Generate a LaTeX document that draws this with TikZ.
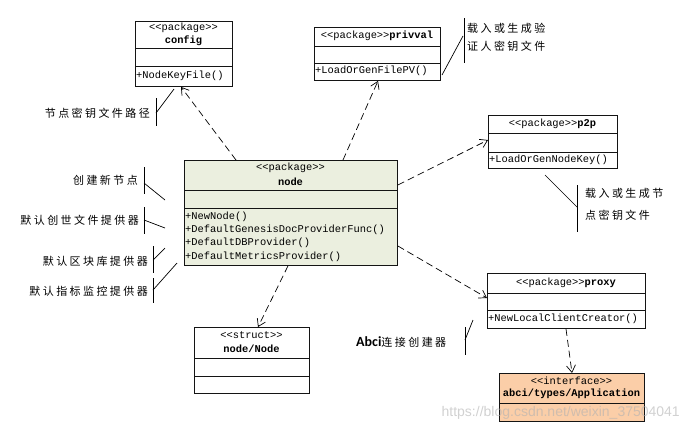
\documentclass[tikz,border=0pt]{standalone}
\usepackage{fontspec}
\setmonofont{Liberation Mono}
\newfontfamily\cjk[LetterSpace=22]{Noto Sans CJK SC}
\newfontfamily\wmfont{Liberation Sans}
\newfontfamily\abcifont{Carlito}
\usetikzlibrary{arrows.meta,calc}
\definecolor{nodefill}{RGB}{235,239,223}
\definecolor{appfill}{RGB}{251,206,168}
\definecolor{edge}{RGB}{20,20,20}
\tikzset{
  classbox/.style={draw=edge, line width=0.9pt, inner sep=0pt, rectangle, anchor=north west},
  mono/.style={font=\ttfamily\fontsize{10.4}{12}\selectfont, inner sep=0pt},
  monob/.style={font=\ttfamily\bfseries\fontsize{10.4}{12}\selectfont, inner sep=0pt},
  note/.style={font=\cjk\fontsize{11}{13}\selectfont, inner sep=0pt},
  sepline/.style={draw=edge, line width=0.9pt},
  noteline/.style={draw=black, line width=0.7pt},
  dep/.style={draw=black, line width=0.7pt, dash pattern=on 7pt off 4pt, -{Straight Barb[length=7pt,width=9pt]}}
}
\begin{document}
\begin{tikzpicture}[x=1pt,y=-1pt]
\useasboundingbox (0,0) rectangle (683,434);

% config
\node[classbox, minimum width=97pt, minimum height=65pt] (config) at (135,21) {};
\draw[sepline] (135,48) -- (232,48); \draw[sepline] (135,66) -- (232,66);
\node[mono] (configst) at (183.5,28) {<<package>>};
\node[monob] (configname) at (183.5,41) {config};
\node[mono, anchor=west] (configop) at (136,76) {+NodeKeyFile()};

% privval
\node[classbox, minimum width=126pt, minimum height=53pt] (privval) at (314,27) {};
\draw[sepline] (314,46) -- (440,46); \draw[sepline] (314,63) -- (440,63);
\node[mono] (privvalt) at (377,36) {<<package>>\textbf{privval}};
\node[mono, anchor=west] (privvalop) at (315,71) {+LoadOrGenFilePV()};

% p2p
\node[classbox, minimum width=129pt, minimum height=53pt] (p2p) at (488,115) {};
\draw[sepline] (488,133) -- (617,133); \draw[sepline] (488,152) -- (617,152);
\node[mono] (p2pt) at (552.5,124) {<<package>>\textbf{p2p}};
\node[mono, anchor=west] (p2pop) at (489,160) {+LoadOrGenNodeKey()};

% node
\node[classbox, fill=nodefill, minimum width=213pt, minimum height=105pt] (node) at (184,160) {};
\draw[sepline] (184,190) -- (397,190); \draw[sepline] (184,208) -- (397,208);
\node[mono] (nodest) at (290.5,168) {<<package>>};
\node[monob] (nodename) at (290.5,182) {node};
\node[mono, anchor=west] (nodeop1) at (185,217) {+NewNode()};
\node[mono, anchor=west] (nodeop2) at (185,230) {+DefaultGenesisDocProviderFunc()};
\node[mono, anchor=west] (nodeop3) at (185,243) {+DefaultDBProvider()};
\node[mono, anchor=west] (nodeop4) at (185,257) {+DefaultMetricsProvider()};

% proxy
\node[classbox, minimum width=158pt, minimum height=55pt] (proxy) at (487,273) {};
\draw[sepline] (487,293) -- (645,293); \draw[sepline] (487,310) -- (645,310);
\node[mono] (proxyt) at (566,283) {<<package>>\textbf{proxy}};
\node[mono, anchor=west] (proxyop) at (488,319) {+NewLocalClientCreator()};

% node/Node
\node[classbox, minimum width=115pt, minimum height=66pt] (nn) at (194,327) {};
\draw[sepline] (194,358) -- (309,358); \draw[sepline] (194,376) -- (309,376);
\node[mono] (nnst) at (251.5,335) {<<struct>>};
\node[monob] (nnname) at (251.5,349) {node/Node};

% Application
\node[classbox, fill=appfill, minimum width=145pt, minimum height=48pt] (app) at (499,373) {};
\draw[sepline] (499,403) -- (644,403);
\node[mono] (appst) at (571.5,381) {<<interface>>};
\node[monob] (appname) at (571.5,394) {abci/types/Application};

% dependencies
\draw[dep] ($(node.north west)+(52,0)$) -- ($(config.south west)+(46,0)$);
\draw[dep] ($(node.north west)+(159,0)$) -- ($(privval.south west)+(64,0)$);
\draw[dep] ($(node.north east)+(0,25)$) -- ($(p2p.north west)+(0,25)$);
\draw[dep] ($(node.north east)+(0,86)$) -- ($(proxy.north west)+(0,25)$);
\draw[dep] ($(node.south west)+(104,0)$) -- ($(nn.north west)+(64,0)$);
\draw[dep] ($(proxy.south west)+(79,0)$) -- ($(app.north west)+(73,0)$);

% notes
\node[note, anchor=north west, align=left, font=\cjk\fontsize{11}{18}\selectfont] (privvalnote) at (467,23) {载入或生成验\\证人密钥文件};
\draw[noteline] (464,18) -- (464,63); \draw[noteline] (442,75) -- (463,36);

\node[note, anchor=east] (confignote) at (150,113) {节点密钥文件路径};
\draw[noteline] (156,98) -- (156,126); \draw[noteline] (156,113) -- (174,89);

\node[note, anchor=north west, align=left, font=\cjk\fontsize{11}{22}\selectfont] (p2pnote) at (585,188) {载入或生成节\\点密钥文件};
\draw[noteline] (545,175) -- (577,207); \draw[noteline] (577,185) -- (577,232);

\node[note, anchor=east] (n1) at (138,180) {创建新节点};
\draw[noteline] (144,167) -- (144,194); \draw[noteline] (144,183) -- (165,200);

\node[note, anchor=east] (n2) at (139,220) {默认创世文件提供器};
\draw[noteline] (144,207) -- (144,234); \draw[noteline] (144,220) -- (165,228);

\node[note, anchor=east] (n3) at (148,261) {默认区块库提供器};
\draw[noteline] (153,246) -- (153,273); \draw[noteline] (153,260) -- (165,248);

\node[note, anchor=east] (n4) at (148,291) {默认指标监控提供器};
\draw[noteline] (153,278) -- (153,303); \draw[noteline] (153,290) -- (177,263);

\node[note, anchor=west] (abcinote) at (356,342) {{\abcifont\bfseries\fontsize{14}{16}\selectfont Abci}连接创建器};
\draw[noteline] (465,327) -- (465,355); \draw[noteline] (465,340) -- (473,320);

% watermark (on top, semi-transparent)
\node[font=\wmfont\fontsize{14}{16}\selectfont, text=black!30, opacity=0.6, inner sep=0pt, anchor=east] (wm) at (680,413) {https://blog.csdn.net/weixin\_37504041};
\end{tikzpicture}
\end{document}
